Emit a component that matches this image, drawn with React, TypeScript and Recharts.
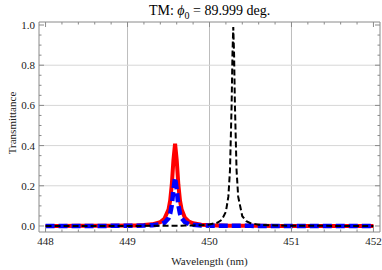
import { LineChart, Line, XAxis, YAxis, ReferenceLine } from "recharts";

// wavelength grid (nm), dense around the two resonances
const wavelength = [
  448, 448.2, 448.4, 448.6, 448.8, 449, 449.1, 449.2, 449.3, 449.4, 449.45, 449.5,
  449.52, 449.54, 449.56, 449.58, 449.6, 449.62, 449.64, 449.66, 449.7, 449.75,
  449.8, 449.9, 450, 450.1, 450.15, 450.2, 450.23, 450.25, 450.27, 450.28, 450.29,
  450.3, 450.31, 450.33, 450.35, 450.4, 450.45, 450.5, 450.6, 450.8, 451, 451.2,
  451.4, 451.6, 451.8, 452,
];

const redT = [
  0.0003, 0.0003, 0.0005, 0.0007, 0.0011, 0.0019, 0.0028, 0.0045, 0.0082, 0.0193,
  0.0355, 0.082, 0.126, 0.205, 0.328, 0.41, 0.328, 0.205, 0.126, 0.082, 0.041,
  0.0215, 0.0131, 0.0063, 0.0037, 0.0024, 0.002, 0.0017, 0.0016, 0.0015, 0.0015,
  0.0015, 0.0014, 0.0014, 0.0014, 0.0014, 0.0013, 0.001, 0.0009, 0.0008, 0.0006,
  0.0004, 0.0003, 0.0003, 0.0002, 0.0002, 0.0002, 0.0001,
];

const blueT = [
  0.0001, 0.0002, 0.0002, 0.0003, 0.0005, 0.0009, 0.0013, 0.002, 0.0037, 0.0088,
  0.0162, 0.0386, 0.061, 0.104, 0.181, 0.24, 0.181, 0.104, 0.061, 0.0386, 0.0188,
  0.0098, 0.0059, 0.0028, 0.0017, 0.0011, 0.001, 0.0008, 0.0008, 0.0008, 0.0007,
  0.0007, 0.0007, 0.0007, 0.0007, 0.0007, 0.0006, 0.0006, 0.0005, 0.0005, 0.0004,
  0.0003, 0.0002, 0.0002, 0.0001, 0.0001, 0.0001, 0.0001,
];

const blackT = [
  0.0001, 0.0001, 0.0001, 0.0002, 0.0003, 0.0004, 0.0004, 0.0005, 0.0006, 0.0008,
  0.0009, 0.001, 0.001, 0.0011, 0.0012, 0.0012, 0.0013, 0.0014, 0.0015, 0.0016,
  0.0018, 0.0021, 0.0026, 0.004, 0.0073, 0.0168, 0.0306, 0.071, 0.146, 0.278,
  0.604, 0.853, 0.99, 0.853, 0.604, 0.278, 0.146, 0.0486, 0.0236, 0.0138, 0.0064,
  0.0024, 0.0012, 0.0007, 0.0005, 0.0004, 0.0003, 0.0002,
];

const xTicks = [
  448, 448.2, 448.4, 448.6, 448.8, 449, 449.2, 449.4, 449.6, 449.8, 450, 450.2,
  450.4, 450.6, 450.8, 451, 451.2, 451.4, 451.6, 451.8, 452,
];
const yTicks = [
  0, 0.05, 0.1, 0.15, 0.2, 0.25, 0.3, 0.35, 0.4, 0.45, 0.5, 0.55, 0.6, 0.65, 0.7,
  0.75, 0.8, 0.85, 0.9, 0.95, 1,
];
const xGrid = [449, 450, 451];
const yGrid = [0.2, 0.4, 0.6, 0.8];

const data = wavelength.map((wl, i) => ({
  wl,
  red: redT[i],
  blue: blueT[i],
  black: blackT[i],
}));

const frame = "#8a8a8a";
const serif = "'Liberation Serif', 'DejaVu Serif', serif";

const isMajorX = (v: number) => Math.abs(v - Math.round(v)) < 1e-6;
const isMajorY = (v: number) => Math.abs(v * 5 - Math.round(v * 5)) < 1e-6;

function BottomTick({ x, y, payload }: any) {
  const major = isMajorX(payload.value);
  return (
    <g>
      <line x1={x} x2={x} y1={y} y2={y - (major ? 5 : 2.5)} stroke={frame} />
      {major && (
        <text x={x} y={y + 13} textAnchor="middle" fontSize={11} fontFamily={serif} fill="#222">
          {payload.value}
        </text>
      )}
    </g>
  );
}

function TopTick({ x, y, payload }: any) {
  const major = isMajorX(payload.value);
  return <line x1={x} x2={x} y1={y} y2={y + (major ? 5 : 2.5)} stroke={frame} />;
}

function LeftTick({ x, y, payload }: any) {
  const major = isMajorY(payload.value);
  return (
    <g>
      <line x1={x} x2={x + (major ? 5 : 2.5)} y1={y} y2={y} stroke={frame} />
      {major && (
        <text x={x - 4} y={y + 4} textAnchor="end" fontSize={11} fontFamily={serif} fill="#222">
          {payload.value.toFixed(1)}
        </text>
      )}
    </g>
  );
}

function RightTick({ x, y, payload }: any) {
  const major = isMajorY(payload.value);
  return <line x1={x} x2={x - (major ? 5 : 2.5)} y1={y} y2={y} stroke={frame} />;
}

export default function App() {
  const xDomain: [number, number] = [447.92, 452.08];
  const yDomain: [number, number] = [-0.03, 1.015];
  return (
    <div style={{ position: "absolute", left: 0, top: 0, width: 382, height: 270, background: "#fff", fontFamily: serif }}>
      <div style={{ position: "absolute", left: 0, width: 419, top: 3, textAlign: "center", fontSize: 14, lineHeight: "16px", color: "#000" }}>
        TM: <i>ϕ</i>
        <sub style={{ fontSize: 10 }}>0</sub> = 89.999 deg.
      </div>
      <div
        style={{
          position: "absolute",
          left: 12,
          top: 123,
          transform: "translate(-50%, -50%) rotate(-90deg)",
          fontSize: 11,
          whiteSpace: "nowrap",
          color: "#222",
        }}
      >
        Transmittance
      </div>
      <div style={{ position: "absolute", left: 0, width: 419, top: 255, textAlign: "center", fontSize: 11, color: "#222" }}>
        Wavelength (nm)
      </div>
      <LineChart width={382} height={270} data={data} margin={{ top: 21, right: 0, bottom: 0, left: 0 }}>
        <XAxis
          dataKey="wl"
          type="number"
          domain={xDomain}
          allowDataOverflow
          ticks={xTicks}
          interval={0}
          height={38}
          tickSize={0}
          tickMargin={0}
          tickLine={false}
          axisLine={{ stroke: frame }}
          tick={BottomTick}
        />
        <XAxis
          xAxisId="top"
          orientation="top"
          dataKey="wl"
          type="number"
          domain={xDomain}
          allowDataOverflow
          ticks={xTicks}
          interval={0}
          height={1}
          tickSize={0}
          tickMargin={0}
          tickLine={false}
          axisLine={{ stroke: frame }}
          tick={TopTick}
        />
        <YAxis
          type="number"
          domain={yDomain}
          allowDataOverflow
          ticks={yTicks}
          interval={0}
          width={39}
          tickSize={0}
          tickMargin={0}
          tickLine={false}
          axisLine={{ stroke: frame }}
          tick={LeftTick}
        />
        <YAxis
          yAxisId="right"
          orientation="right"
          type="number"
          domain={yDomain}
          allowDataOverflow
          ticks={yTicks}
          interval={0}
          width={2}
          tickSize={0}
          tickMargin={0}
          tickLine={false}
          axisLine={{ stroke: frame }}
          tick={RightTick}
        />
        {xGrid.map((v) => (
          <ReferenceLine key={"gx" + v} x={v} stroke="#bdbdbd" strokeWidth={1} />
        ))}
        {yGrid.map((v) => (
          <ReferenceLine key={"gy" + v} y={v} stroke="#d6d6d6" strokeWidth={1} />
        ))}
        <Line dataKey="red" type="linear" stroke="#ff0000" strokeWidth={4} dot={false} isAnimationActive={false} />
        <Line
          dataKey="blue"
          type="linear"
          stroke="#0000ff"
          strokeWidth={4.5}
          strokeDasharray="9 4"
          dot={false}
          isAnimationActive={false}
        />
        <Line
          dataKey="black"
          type="linear"
          stroke="#000"
          strokeWidth={2}
          strokeDasharray="6 3"
          dot={false}
          isAnimationActive={false}
        />
      </LineChart>
    </div>
  );
}
